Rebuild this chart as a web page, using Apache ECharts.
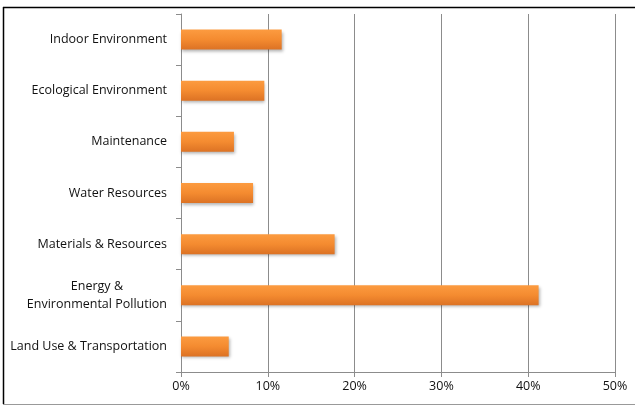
<!DOCTYPE html>
<html><head><meta charset="utf-8">
<script src="https://cdn.jsdelivr.net/npm/echarts@6/dist/echarts.min.js"></script>
<style>html,body{margin:0;padding:0;background:#fff}#c{width:635px;height:406px}</style>
</head><body><div id="c"></div>
<script>
var categories = ["Indoor Environment","Ecological Environment","Maintenance","Water Resources","Materials & Resources","Energy &\nEnvironmental Pollution","Land Use & Transportation"];
var values = [11.6, 9.6, 6.1, 8.3, 17.7, 41.2, 5.5];
var xTicks = [0, 10, 20, 30, 40, 50];

var chart = echarts.init(document.getElementById('c'), null, {renderer:'canvas'});
var font = "'Open Sans', sans-serif";
chart.setOption({
  animation:false,
  backgroundColor:'#fff',
  grid:{left:181, right:20, top:14, bottom:34},
  xAxis:{type:'value', min:xTicks[0], max:xTicks[xTicks.length-1], interval:10,
    axisLine:{show:true, lineStyle:{color:'#8c8c8c', width:1}},
    axisTick:{show:true, length:5, lineStyle:{color:'#8c8c8c'}},
    splitLine:{show:true, lineStyle:{color:'#8c8c8c', width:1}},
    axisLabel:{formatter:'{value}%', color:'#111', fontFamily:font, fontSize:12.5, margin:8}
  },
  yAxis:{type:'category', data:categories, inverse:true,
    axisLine:{show:true, lineStyle:{color:'#8c8c8c', width:1}},
    axisTick:{show:true, length:5, inside:false, lineStyle:{color:'#8c8c8c'}},
    axisLabel:{color:'#111', fontFamily:font, fontSize:12.5, margin:14, lineHeight:18,
      formatter:function(v){
        if(v.indexOf('\n')>=0){ var p=v.split('\n'); return '{c|'+p[0]+'}\n{c|'+p[1]+'}'; }
        return v;
      },
      rich:{c:{align:'center', fontFamily:font, fontSize:12.5, color:'#111', lineHeight:18}}
    }
  },
  series:[{type:'bar', data:values, barWidth:20,
    itemStyle:{
      color:new echarts.graphic.LinearGradient(0,0,0,1,[{offset:0,color:'#fc9b40'},{offset:0.5,color:'#f48b30'},{offset:1,color:'#dc7224'}]),
      shadowColor:'rgba(0,0,0,0.3)', shadowBlur:3, shadowOffsetX:1, shadowOffsetY:2
    }
  }],
  graphic:[
    {type:'line', shape:{x1:3, y1:7.5, x2:635, y2:7.5}, style:{stroke:'#000', lineWidth:1.5}, silent:true},
    {type:'line', shape:{x1:3.5, y1:7, x2:3.5, y2:404}, style:{stroke:'#000', lineWidth:1.5}, silent:true},
    {type:'line', shape:{x1:3, y1:404.5, x2:635, y2:404.5}, style:{stroke:'#999', lineWidth:1}, silent:true}
  ]
});
</script></body></html>
